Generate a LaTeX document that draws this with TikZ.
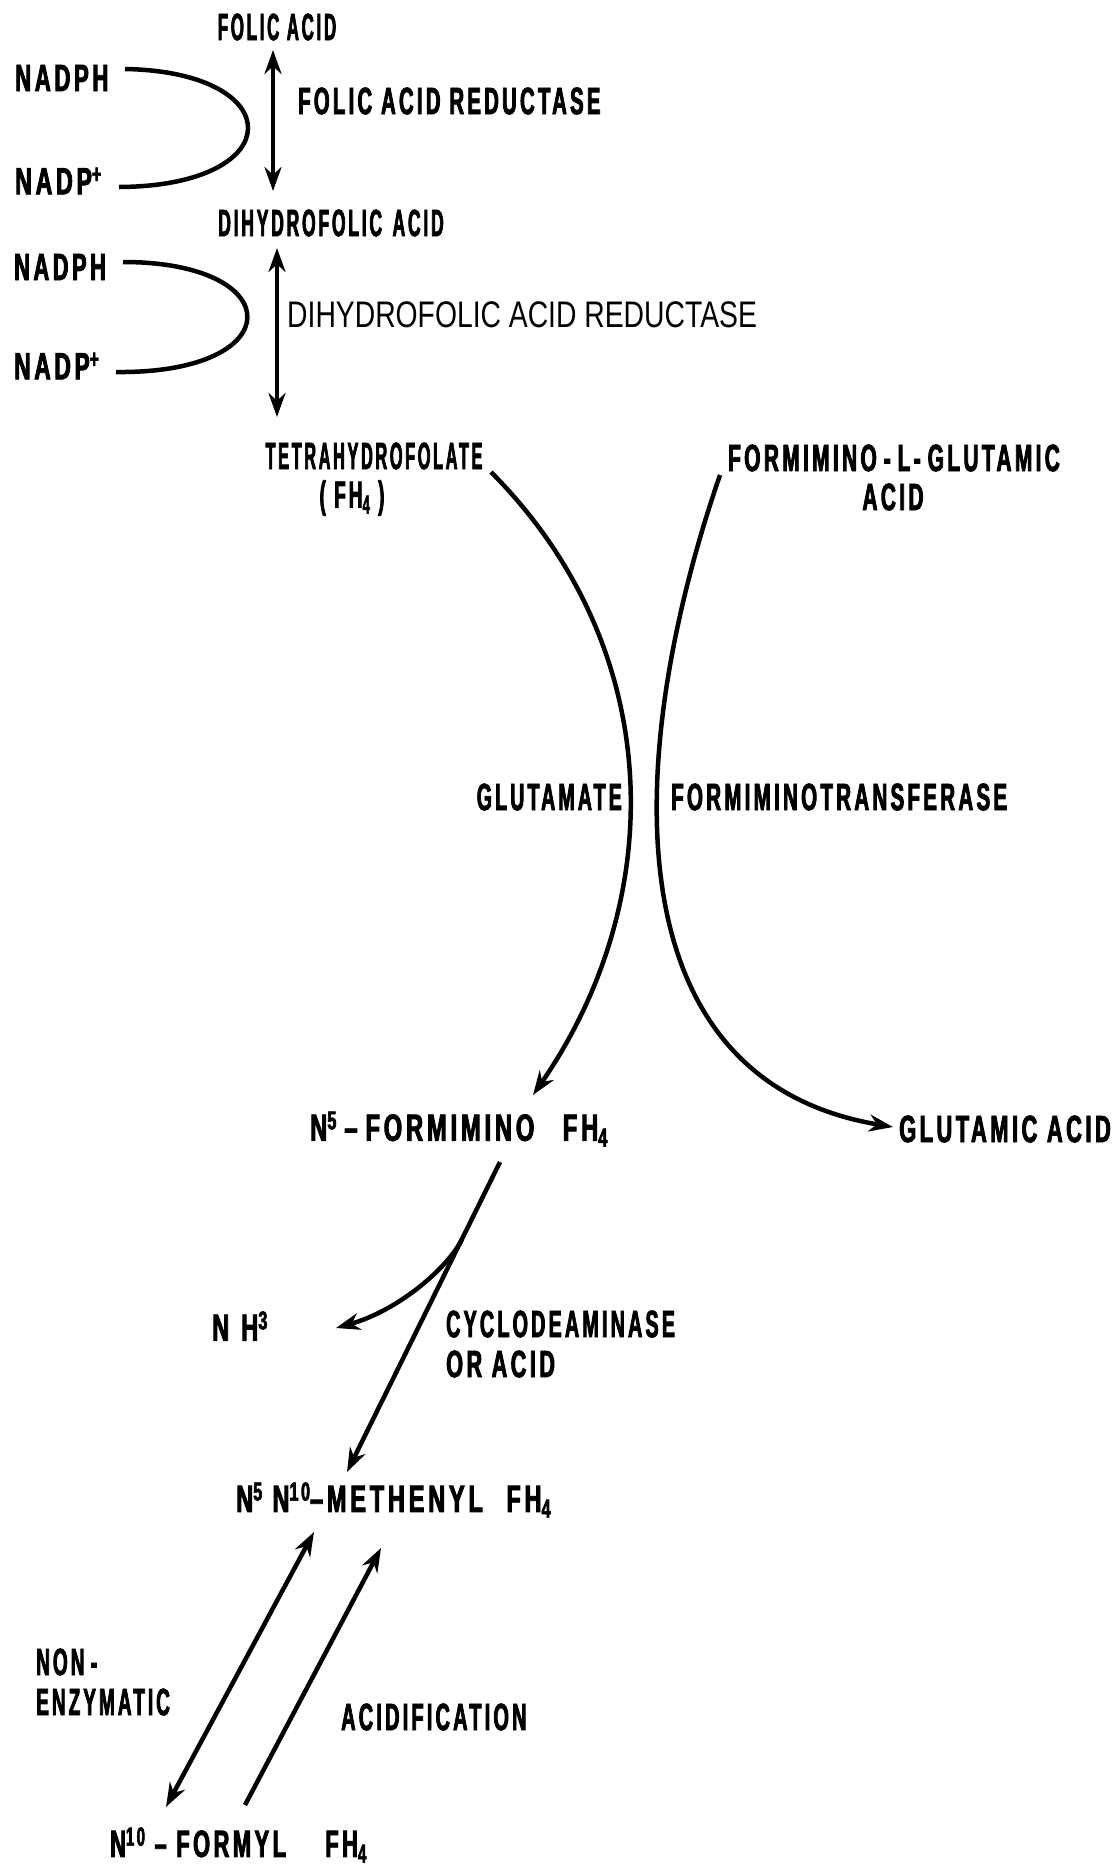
\documentclass[tikz,border=0pt]{standalone}
\usepackage{fontspec}
\usepackage{graphicx}
\setmainfont{Liberation Sans}[FakeStretch=0.5,LetterSpace=8,FakeBold=2]
\newfontfamily\thinfont{Liberation Sans}[FakeStretch=0.75]
\usetikzlibrary{arrows.meta,calc}
\newcommand\hi[1]{\raisebox{0.3em}{\fontsize{26}{26}\selectfont #1}}
\newcommand\lo[1]{\raisebox{-0.15em}{\fontsize{26}{26}\selectfont #1}}
\newcommand\sx[2]{\scalebox{#1}[1]{#2}}
\begin{document}
\begin{tikzpicture}[x=1pt,y=-1pt,
  lab/.style={inner sep=0pt, font=\fontsize{38}{40}\selectfont\bfseries},
  con/.style={line width=4.5pt},
  arr/.style={con,-{Stealth[length=24pt,width=17pt]}},
  darr/.style={con,{Stealth[length=24pt,width=17pt]}-{Stealth[length=24pt,width=17pt]}}]
\useasboundingbox[fill=white] (0,0) rectangle (1115,1869);

% nodes
\node[lab] (folic) at (277,27) {\sx{0.89}{FOLIC ACID}};
\node[lab,anchor=west] (nadph1) at (15,78) {\sx{1.17}{NADPH}};
\node[lab,anchor=west] (nadp1) at (15,181) {\sx{1.22}{NADP\hi{+}}};
\node[lab,anchor=west] (fr) at (298,101) {\sx{1.07}{FOLIC ACID REDUCTASE}};
\node[lab] (dhf) at (331,223) {\sx{0.92}{DIHYDROFOLIC\hspace{0.3em}ACID}};
\node[lab,anchor=west] (nadph2) at (14,267) {\sx{1.15}{NADPH}};
\node[lab,anchor=west] (nadp2) at (14,366) {\sx{1.2}{NADP\hi{+}}};
\node[lab,anchor=west,font=\fontsize{37}{40}\thinfont] (dhfr) at (287,315) {\sx{1.02}{DIHYDROFOLIC ACID REDUCTASE}};
\node[lab] (thf) at (374,456) {\sx{0.86}{TETRAHYDROFOLATE}};
\node[lab] (thfb) at (352,498) {( FH\lo{4} )};
\node[lab] (fglu) at (894,458) {\sx{1.1}{FORMIMINO\,-\,L-\,GLUTAMIC}};
\node[lab] (fglub) at (893,497) {\sx{1.1}{ACID}};
\node[lab,anchor=east] (glutamate) at (622,797) {\sx{1.03}{GLUTAMATE}};
\node[lab,anchor=west] (ftrans) at (671,797) {\sx{1.08}{FORMIMINOTRANSFERASE}};
\node[lab,anchor=west] (n5f) at (310,1129) {\sx{1.25}{N\hi{5}\,–\,FORMIMINO\hspace{0.6em}FH\lo{4}}};
\node[lab,anchor=west] (glua) at (899,1129) {\sx{1.15}{GLUTAMIC ACID}};
\node[lab,anchor=west] (nh3) at (212,1326) {\sx{1.25}{N\hspace{0.25em}H\hi{3}}};
\node[lab,anchor=west] (cyclo) at (446,1324) {\sx{1.04}{CYCLODEAMINASE}};
\node[lab,anchor=west] (oracid) at (446,1364) {\sx{1.14}{OR ACID}};
\node[lab,anchor=west] (meth) at (236,1500) {\sx{1.24}{N\hi{5} N\hi{10}–METHENYL\hspace{0.5em}FH\lo{4}}};
\node[lab,anchor=west] (non) at (36,1662) {NON\,-};
\node[lab,anchor=west] (enz) at (36,1702) {ENZYMATIC};
\node[lab,anchor=west] (acid) at (341,1717) {\sx{1.05}{ACIDIFICATION}};
\node[lab,anchor=west] (formyl) at (110,1845) {\sx{1.15}{N\hi{10} – FORMYL\hspace{0.9em}FH\lo{4}}};

% top reaction
\draw[darr] ($(folic)+(-4,23)$) -- ($(dhf)+(-58,-32)$);
\draw[con] ($(nadph1.west)+(110,-9)$) .. controls (290,72) and (290,186) .. ($(nadp1.west)+(104,6)$);
% second reaction
\draw[darr] ($(dhf)+(-54,25)$) -- ($(thf)+(-97,-39)$);
\draw[con] ($(nadph2.west)+(109,-5)$) .. controls (290,262) and (290,374) .. ($(nadp2.west)+(102,6)$);
% big crossing curves
\draw[arr] ($(thf)+(117,16)$) .. controls (668,650) and (668,900) .. ($(n5f.west)+(223,-34)$);
\draw[arr] ($(fglu)+(-174,17)$) .. controls (622,760) and (612,1080) .. ($(glua.west)+(-6,-2)$);
% N5-formimino -> methenyl, with NH3 branch
\coordinate (la) at ($(n5f.west)+(190,33)$);
\coordinate (lb) at ($(meth.west)+(111,-28)$);
\draw[arr] (la) -- (lb);
\coordinate (br) at ($(la)!0.25!(lb)$);
\draw[arr] (br) .. controls ($(br)+(-13,27)$) and (400,1310) .. ($(nh3.west)+(124,2)$);
% methenyl <-> formyl
\draw[darr] ($(meth.west)+(78,32)$) -- ($(formyl.west)+(56,-38)$);
\draw[arr] ($(formyl.west)+(135,-40)$) -- ($(meth.west)+(145,48)$);
\end{tikzpicture}
\end{document}
